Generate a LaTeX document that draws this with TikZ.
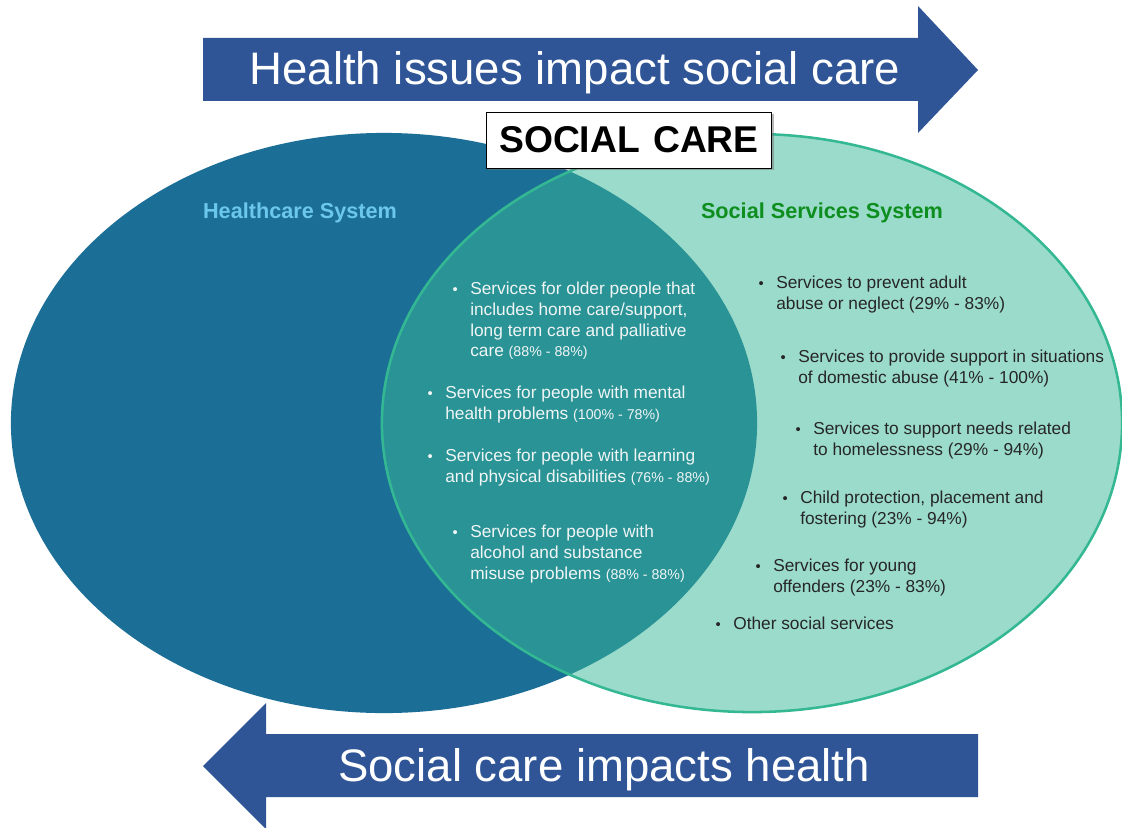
\documentclass[tikz,border=0pt]{standalone}
\usepackage{fontspec}
\setmainfont{Liberation Sans}
\usetikzlibrary{shadows}
\definecolor{zzqqbb}{rgb}{0.184,0.333,0.592}
\definecolor{qqttbb}{rgb}{0.106,0.431,0.588}
\definecolor{qqccbb}{rgb}{0.165,0.576,0.588}
\definecolor{ccffzz}{rgb}{0.608,0.859,0.796}
\definecolor{qqccqq}{rgb}{0.2,0.722,0.576}
\definecolor{ttccff}{rgb}{0.42,0.78,0.925}
\definecolor{qqttqq}{rgb}{0.055,0.557,0.118}
\definecolor{zzzzzz}{rgb}{0.15,0.15,0.15}
\definecolor{ffffff}{rgb}{0.94,0.96,0.96}

\begin{document}
\begin{tikzpicture}[line cap=round,line join=round,x=0.025cm,y=-0.025cm,
  itm/.style={anchor=north west,align=left,inner sep=0pt,font=\fontsize{12.3}{14.7}\selectfont},
  blt/.style={anchor=base east,inner sep=0pt,font=\fontsize{10.5}{12}\selectfont},
  hdr/.style={inner sep=0pt,font=\fontsize{15.4}{18}\selectfont\bfseries},
  big/.style={inner sep=0pt,text=white,font=\fontsize{32.4}{38}\selectfont}]
\useasboundingbox (0,0) rectangle (1122,827);
% the two systems
\fill[qqttbb] (384,423) ellipse [x radius=9.325cm,y radius=7.25cm];
\fill[ccffzz] (752,423) ellipse [x radius=9.25cm,y radius=7.225cm];
\begin{scope}
\clip (384,423) ellipse [x radius=9.325cm,y radius=7.25cm];
\fill[qqccbb] (752,423) ellipse [x radius=9.25cm,y radius=7.225cm];
\end{scope}
\draw[qqccqq,line width=1.8pt] (752,423) ellipse [x radius=9.25cm,y radius=7.225cm];
% arrows
\fill[zzqqbb] (203,38) -- (918,38) -- (918,6) -- (978,70) -- (918,133) -- (918,101) -- (203,101) -- cycle;
\fill[zzqqbb] (978,734) -- (266,734) -- (266,703) -- (203,766) -- (266,829) -- (266,797) -- (978,797) -- cycle;
\node[big] (hlth) at (575,73) {Health issues impact social care};
\node[big] (socl) at (604,770) {Social care impacts health};
% title box
\node[draw=black,fill=white,line width=0.6pt,minimum width=203pt,minimum height=39.8pt,
  drop shadow={shadow xshift=1.5pt,shadow yshift=-1.5pt,fill=black!55},
  font=\fontsize{26.5}{30}\selectfont\bfseries] (care) at (629,140) {SOCIAL\hspace{2pt} CARE};
\node[hdr,text=ttccff] (hcs) at (300,213) {Healthcare System};
\node[hdr,text=qqttqq] (sss) at (822,213) {Social Services System};
% shared services
\begin{scope}[every node/.append style={text=ffffff}]
\node[itm] (o1) at (470,282) {Services for older people that\\includes home care/support,\\long term care and palliative\\care {\fontsize{10.1}{14.7}\selectfont(88\% - 88\%)}};
\node[itm] (o2) at (445,386) {Services for people with mental\\health problems {\fontsize{10.1}{14.7}\selectfont(100\% - 78\%)}};
\node[itm] (o3) at (445,449) {Services for people with learning\\and physical disabilities {\fontsize{10.1}{14.7}\selectfont(76\% - 88\%)}};
\node[itm] (o4) at (470,525) {Services for people with\\alcohol and substance\\misuse problems {\fontsize{10.1}{14.7}\selectfont(88\% - 88\%)}};
\node[blt] (o1b) at ([xshift=-8.5pt,yshift=-9pt]o1.north west) {\textbullet};
\node[blt] (o2b) at ([xshift=-8.5pt,yshift=-9pt]o2.north west) {\textbullet};
\node[blt] (o3b) at ([xshift=-8.5pt,yshift=-9pt]o3.north west) {\textbullet};
\node[blt] (o4b) at ([xshift=-8.5pt,yshift=-9pt]o4.north west) {\textbullet};
\end{scope}
% social services
\begin{scope}[every node/.append style={text=zzzzzz}]
\node[itm] (s1) at (776,276) {Services to prevent adult\\abuse or neglect  (29\% - 83\%)};
\node[itm] (s2) at (798,350) {Services to provide support in situations\\of domestic abuse (41\% - 100\%)};
\node[itm] (s3) at (813,422) {Services to support needs related\\to homelessness (29\% - 94\%)};
\node[itm] (s4) at (800,491) {Child protection, placement and\\fostering (23\% - 94\%)};
\node[itm] (s5) at (773,559) {Services for young\\offenders (23\% - 83\%)};
\node[itm] (s6) at (733,617) {Other social services};
\node[blt] (s1b) at ([xshift=-8.5pt,yshift=-9pt]s1.north west) {\textbullet};
\node[blt] (s2b) at ([xshift=-8.5pt,yshift=-9pt]s2.north west) {\textbullet};
\node[blt] (s3b) at ([xshift=-8.5pt,yshift=-9pt]s3.north west) {\textbullet};
\node[blt] (s4b) at ([xshift=-8.5pt,yshift=-9pt]s4.north west) {\textbullet};
\node[blt] (s5b) at ([xshift=-8.5pt,yshift=-9pt]s5.north west) {\textbullet};
\node[blt] (s6b) at ([xshift=-8.5pt,yshift=-9pt]s6.north west) {\textbullet};
\end{scope}
\end{tikzpicture}
\end{document}
